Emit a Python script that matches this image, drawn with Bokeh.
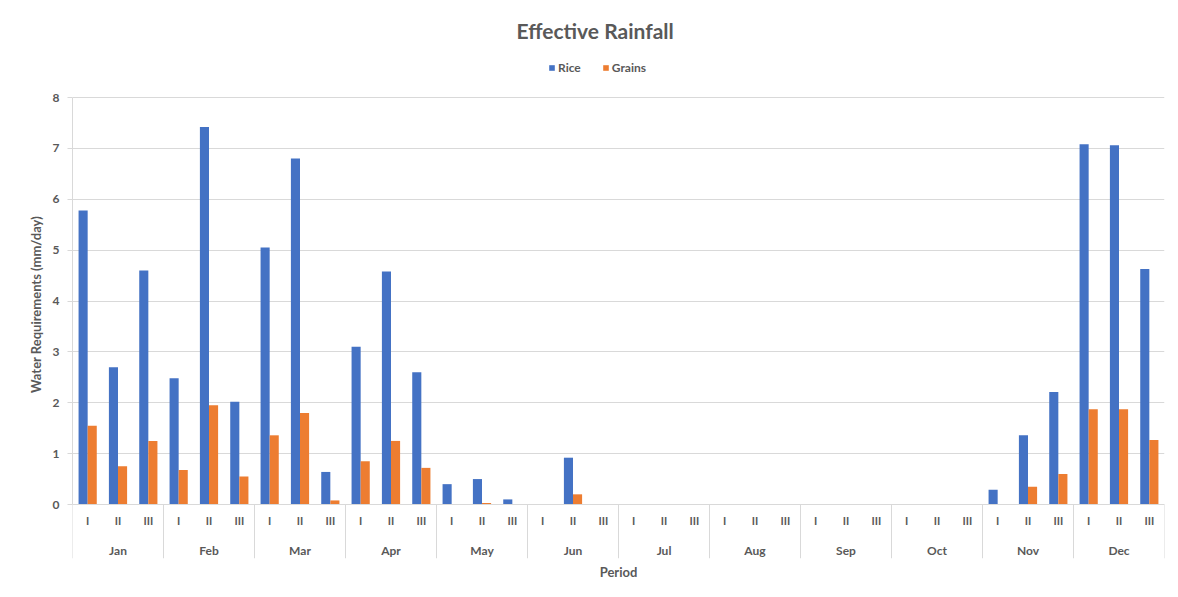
from bokeh.plotting import figure
from bokeh.models import ColumnDataSource, Range1d, FixedTicker, Legend, LegendItem
from bokeh.transform import dodge
from bokeh.core.properties import value
from bokeh.embed import file_html
from bokeh.resources import INLINE

months = ["Jan", "Feb", "Mar", "Apr", "May", "Jun", "Jul", "Aug", "Sep", "Oct", "Nov", "Dec"]
dekads = ["I", "II", "III"]
rice = [5.78, 2.70, 4.60,
        2.48, 7.42, 2.02,
        5.05, 6.80, 0.64,
        3.10, 4.58, 2.60,
        0.40, 0.50, 0.10,
        0.00, 0.92, 0.00,
        0.00, 0.00, 0.00,
        0.00, 0.00, 0.00,
        0.00, 0.00, 0.00,
        0.00, 0.00, 0.00,
        0.29, 1.36, 2.21,
        7.08, 7.06, 4.63]
grains = [1.55, 0.75, 1.25,
          0.68, 1.95, 0.55,
          1.36, 1.80, 0.08,
          0.85, 1.25, 0.72,
          0.00, 0.03, 0.00,
          0.00, 0.20, 0.00,
          0.00, 0.00, 0.00,
          0.00, 0.00, 0.00,
          0.00, 0.00, 0.00,
          0.00, 0.00, 0.00,
          0.00, 0.35, 0.60,
          1.87, 1.87, 1.27]
y_ticks = [0, 1, 2, 3, 4, 5, 6, 7, 8]

FONT = "Lato"
TXT = "#595959"
GRID = "#D9D9D9"
BLUE = "#4472C4"
ORANGE = "#ED7D31"

n = len(rice)
pos = [i + 0.5 for i in range(n)]
period_labels = [dekads[i % 3] for i in range(n)]
month_pos = [3 * m + 1.5 for m in range(len(months))]

src = ColumnDataSource(dict(x=pos, rice=rice, grains=grains))

p = figure(frame_width=1092, frame_height=508, width=1170, height=585,
           output_backend="svg", toolbar_location=None,
           x_range=Range1d(0, n), y_range=Range1d(-1.0614, 8.924),
           min_border_left=72, min_border_right=6, min_border_top=50, min_border_bottom=27,
           title="Effective Rainfall")
p.outline_line_color = None
p.background_fill_color = "white"
p.border_fill_color = "white"

p.title.align = "left"
p.title.offset = 444
p.title.standoff = 15
p.title.text_font = FONT
p.title.text_font_size = "21px"
p.title.text_font_style = "bold"
p.title.text_color = TXT

r1 = p.vbar(x=dodge("x", -0.15, range=p.x_range), top="rice", width=0.3, source=src,
            fill_color=BLUE, line_color=None)
r2 = p.vbar(x=dodge("x", 0.15, range=p.x_range), top="grains", width=0.3, source=src,
            fill_color=ORANGE, line_color=None)

# grid
p.xgrid.visible = False
p.ygrid.ticker = FixedTicker(ticks=y_ticks)
p.ygrid.grid_line_color = GRID
p.ygrid.grid_line_width = 1

# y axis
ya = p.yaxis[0]
ya.ticker = FixedTicker(ticks=y_ticks)
ya.bounds = (0, 8)
ya.axis_line_color = GRID
ya.major_tick_line_color = GRID
ya.major_tick_out = 5
ya.major_tick_in = 0
ya.minor_tick_line_color = None
ya.major_label_text_font = FONT
ya.major_label_text_font_size = "12px"
ya.major_label_text_font_style = "bold"
ya.major_label_text_color = TXT
ya.major_label_standoff = 8
ya.axis_label = "Water Requirements (mm/day)"
ya.axis_label_text_font = FONT
ya.axis_label_text_font_size = "13px"
ya.axis_label_text_font_style = "bold"
ya.axis_label_text_color = TXT
ya.axis_label_standoff = 6

# x axis (only title)
xa = p.xaxis[0]
xa.ticker = FixedTicker(ticks=[])
xa.axis_line_color = None
xa.major_tick_line_color = None
xa.minor_tick_line_color = None
xa.axis_label = "Period"
xa.axis_label_text_font = FONT
xa.axis_label_text_font_size = "13px"
xa.axis_label_text_font_style = "bold"
xa.axis_label_text_color = TXT
xa.axis_label_standoff = 5

# category axis: baseline, separators, labels
p.segment(x0=[0], y0=[0], x1=[n], y1=[0], line_color=GRID, line_width=1)
seps = [3 * m for m in range(len(months) + 1)]
p.segment(x0=seps, y0=[0] * len(seps), x1=seps, y1=[-1.0614] * len(seps),
          line_color=GRID, line_width=1)
p.text(x=pos, y=[-0.31] * n, text=period_labels, text_align="center", text_baseline="middle",
       text_font=value(FONT), text_font_size="11px", text_font_style="bold", text_color=TXT)
p.text(x=month_pos, y=[-0.90] * len(months), text=months, text_align="center",
       text_baseline="middle", text_font=value(FONT), text_font_size="12px",
       text_font_style="bold", text_color=TXT)

legend = Legend(items=[LegendItem(label="Rice", renderers=[r1]),
                       LegendItem(label="Grains", renderers=[r2])],
                orientation="horizontal", location=(476, 483))
legend.background_fill_alpha = 0
legend.border_line_color = None
legend.padding = 0
legend.margin = 0
legend.spacing = 21
legend.glyph_width = 7
legend.glyph_height = 7
legend.label_standoff = 3
legend.label_text_font = FONT
legend.label_text_font_size = "12px"
legend.label_text_font_style = "bold"
legend.label_text_color = TXT
legend.label_height = 12
p.add_layout(legend, "center")

open("out.html", "w").write(file_html(p, INLINE))
